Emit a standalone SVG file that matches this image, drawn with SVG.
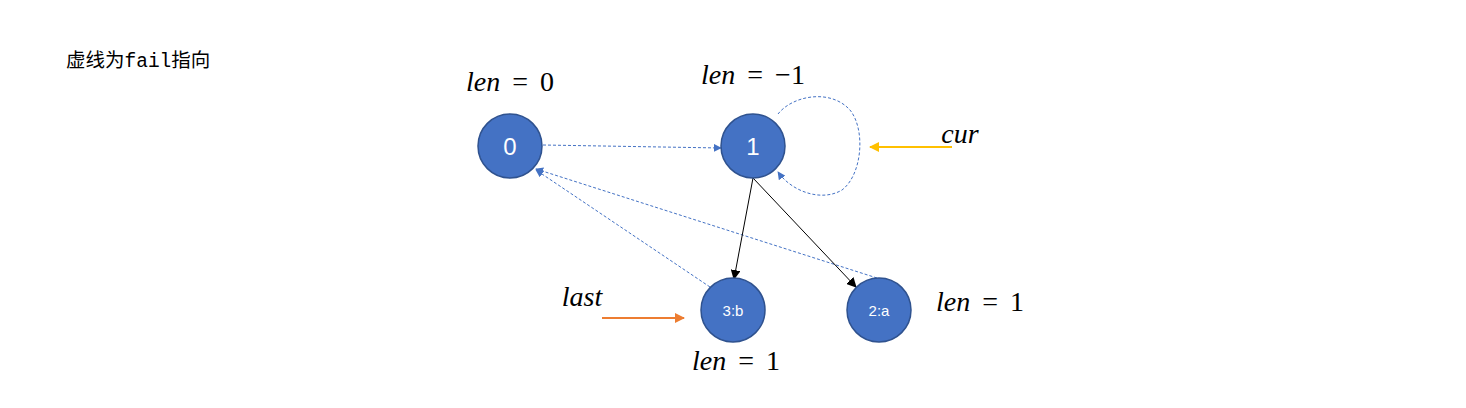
<svg xmlns="http://www.w3.org/2000/svg" width="1466" height="408" viewBox="0 0 1466 408">
<defs>
<style>
.node{fill:#4472C4;stroke:#2F528F;stroke-width:1.5}
.nl{fill:#fff;font-family:"Liberation Sans",Arial,sans-serif;text-anchor:middle}
.fail{fill:none;stroke:#4472C4;stroke-width:1;stroke-dasharray:3,2}
.tr{fill:none;stroke:#000;stroke-width:1}
.m{font-family:"Liberation Serif","DejaVu Serif",serif;font-size:28px;fill:#000;word-spacing:5px}
.i{font-style:italic}
</style>
<marker id="ab" viewBox="0 0 10 10" refX="9" refY="5" markerWidth="8" markerHeight="8" markerUnits="userSpaceOnUse" orient="auto"><path d="M0,0L10,5L0,10z" fill="#4472C4"/></marker>
<marker id="ak" viewBox="0 0 10 10" refX="9" refY="5" markerWidth="10" markerHeight="10" markerUnits="userSpaceOnUse" orient="auto"><path d="M0,0L10,5L0,10z" fill="#000"/></marker>
<marker id="ay" viewBox="0 0 10 10" refX="9" refY="5" markerWidth="10" markerHeight="10" markerUnits="userSpaceOnUse" orient="auto"><path d="M0,0L10,5L0,10z" fill="#FFC000"/></marker>
<marker id="ao" viewBox="0 0 10 10" refX="9" refY="5" markerWidth="10" markerHeight="10" markerUnits="userSpaceOnUse" orient="auto"><path d="M0,0L10,5L0,10z" fill="#ED7D31"/></marker>
</defs>
<rect width="1466" height="408" fill="#fff"/>
<text x="66" y="67" font-family="'Noto Sans CJK SC','Liberation Mono',monospace" font-size="19.5" fill="#000">虚线为<tspan font-family="'Liberation Mono',monospace">fail</tspan>指向</text>
<g id="connectors">
<line class="fail" x1="543" y1="145" x2="721" y2="148" marker-end="url(#ab)"/>
<path class="fail" d="M778,114 C792,96 830,88 850,110 C866,130 862,175 842,190 C822,202 792,192 778,172" marker-end="url(#ab)"/>
<line class="fail" x1="710" y1="287" x2="536" y2="170" marker-end="url(#ab)"/>
<line class="fail" x1="877" y1="278" x2="536" y2="169" marker-end="url(#ab)"/>
<line class="tr" x1="753" y1="178" x2="734" y2="279" marker-end="url(#ak)"/>
<line class="tr" x1="753" y1="178" x2="856" y2="287" marker-end="url(#ak)"/>
<line x1="952" y1="147" x2="870" y2="147" stroke="#FFC000" stroke-width="2" marker-end="url(#ay)"/>
<line x1="602" y1="318" x2="684" y2="318" stroke="#ED7D31" stroke-width="2" marker-end="url(#ao)"/>
</g>
<g id="n0"><circle class="node" cx="510" cy="146" r="32"/><text class="nl" x="510" y="155" font-size="24">0</text></g>
<g id="n1"><circle class="node" cx="753" cy="146" r="32"/><text class="nl" x="753" y="155" font-size="24">1</text></g>
<g id="n3"><circle class="node" cx="733" cy="310" r="32"/><text class="nl" x="733" y="316" font-size="15">3:b</text></g>
<g id="n2"><circle class="node" cx="879" cy="310" r="32"/><text class="nl" x="879" y="316" font-size="15">2:a</text></g>
<text class="m" x="510" y="91" text-anchor="middle"><tspan class="i">len</tspan> = 0</text>
<text class="m" x="753" y="84" text-anchor="middle"><tspan class="i">len</tspan> = −1</text>
<text class="m i" x="960" y="143" text-anchor="middle">cur</text>
<text class="m i" x="582" y="306" text-anchor="middle">last</text>
<text class="m" x="736" y="370" text-anchor="middle"><tspan class="i">len</tspan> = 1</text>
<text class="m" x="980" y="311" text-anchor="middle"><tspan class="i">len</tspan> = 1</text>
</svg>
